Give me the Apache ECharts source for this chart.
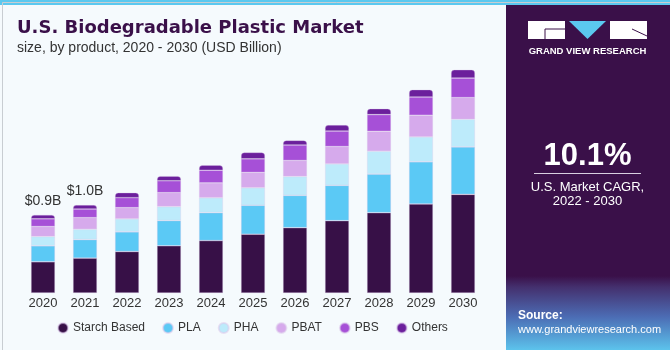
<!DOCTYPE html>
<html>
<head>
<meta charset="utf-8">
<script src="https://cdn.jsdelivr.net/npm/echarts@6/dist/echarts.min.js"></script>
<style>
  html, body { margin: 0; padding: 0; background: #f5fafd; }
  #chart { width: 670px; height: 350px; }
</style>
</head>
<body>
<div id="chart"></div>
<script>
// years on the x axis
const years = ["2020","2021","2022","2023","2024","2025","2026","2027","2028","2029","2030"];

// USD billion
const starch = [0.356, 0.398, 0.473, 0.538, 0.598, 0.670, 0.745, 0.825, 0.916, 1.015, 1.125];
const pla    = [0.182, 0.211, 0.224, 0.288, 0.318, 0.330, 0.368, 0.402, 0.440, 0.481, 0.541];
const pha    = [0.106, 0.118, 0.148, 0.159, 0.170, 0.200, 0.216, 0.245, 0.261, 0.284, 0.315];
const pbat   = [0.114, 0.132, 0.128, 0.159, 0.170, 0.175, 0.182, 0.198, 0.227, 0.247, 0.247];
const pbs    = [0.088, 0.099, 0.114, 0.136, 0.144, 0.155, 0.177, 0.177, 0.190, 0.208, 0.223];
const others = [0.045, 0.045, 0.057, 0.053, 0.057, 0.073, 0.053, 0.068, 0.068, 0.084, 0.095];

// labels shown above the first two bars
const topLabels = ["$0.9B", "$1.0B"];

const seriesDefs = [
  { name: "Starch Based", data: starch, color: "#371047" },
  { name: "PLA",          data: pla,    color: "#5bc9f5" },
  { name: "PHA",          data: pha,    color: "#bdebfb" },
  { name: "PBAT",         data: pbat,   color: "#d6aaec" },
  { name: "PBS",          data: pbs,    color: "#a650d7" },
  { name: "Others",       data: others, color: "#6b1f9c" }
];

const FONT = "'Liberation Sans', Arial, sans-serif";

const series = seriesDefs.map((s, i) => {
  const last = i === seriesDefs.length - 1;
  return {
    name: s.name,
    type: "bar",
    stack: "total",
    barWidth: 24,
    data: s.data,
    itemStyle: {
      color: s.color,
      borderColor: "rgba(220,200,235,0.55)",
      borderWidth: 0.6,
      borderRadius: last ? [3, 3, 0, 0] : 0
    },
    label: last ? {
      show: true,
      position: "top",
      distance: 7,
      fontFamily: FONT,
      fontSize: 14,
      color: "#333",
      formatter: p => topLabels[p.dataIndex] || ""
    } : { show: false }
  };
});

const chart = echarts.init(document.getElementById("chart"));

chart.setOption({
  backgroundColor: "#f5fafd",
  animation: false,
  grid: { left: 22, right: 186, top: 65, bottom: 57 },
  legend: {
    left: 57,
    top: 322,
    padding: 0,
    icon: "circle",
    itemWidth: 10,
    itemHeight: 10,
    itemGap: 17,
    textStyle: { fontFamily: FONT, fontSize: 12, color: "#333" },
    data: seriesDefs.map(s => s.name)
  },
  xAxis: {
    type: "category",
    data: years,
    axisLine: { show: false },
    axisTick: { show: false },
    axisLabel: { fontFamily: FONT, fontSize: 13, color: "#333", margin: 4 }
  },
  yAxis: {
    type: "value",
    min: 0,
    max: 2.6,
    show: false,
    splitLine: { show: false }
  },
  series: series,
  graphic: [
    // top stripe
    { type: "rect", left: 0, top: 0, shape: { width: 670, height: 5 }, style: { fill: "#5bc8ef" }, z: 10 },
    // outer border
    { type: "rect", left: 0, top: 0, shape: { x: 0.5, y: 0.5, width: 669, height: 349 }, style: { fill: "none", stroke: "#c8cdd2", lineWidth: 1 }, z: 11 },
    // title
    { type: "text", left: 17, top: 19, style: { text: "U.S. Biodegradable Plastic Market", fontFamily: "'DejaVu Sans', sans-serif", fontWeight: "bold", fontSize: 18, fill: "#3a1049" } },
    { type: "text", left: 17, top: 41, style: { text: "size, by product, 2020 - 2030 (USD Billion)", fontFamily: FONT, fontSize: 14, fill: "#333" } },
    // right panel
    { type: "rect", left: 506, top: 5, shape: { width: 164, height: 345 }, style: { fill: "#3a1049" }, z: 1 },
    { type: "rect", left: 506, top: 276, shape: { width: 164, height: 74 }, z: 2,
      style: { fill: new echarts.graphic.LinearGradient(0, 0, 0, 1, [
        { offset: 0, color: "#3a1049" },
        { offset: 0.15, color: "#44306e" },
        { offset: 0.55, color: "#4c6cb4" },
        { offset: 1, color: "#5cc3ec" }
      ]) } },
    // logo
    { type: "rect", left: 528, top: 21, shape: { width: 37, height: 18 }, style: { fill: "#ffffff" }, z: 3 },
    { type: "polygon", shape: { points: [[569, 21], [606, 21], [587.5, 39]] }, style: { fill: "#5bc8ef" }, z: 3 },
    { type: "rect", left: 610, top: 21, shape: { width: 37, height: 18 }, style: { fill: "#ffffff" }, z: 3 },
    { type: "polyline", shape: { points: [[545, 29], [565, 29]] }, style: { stroke: "#3a1049", lineWidth: 1 }, z: 4 },
    { type: "polyline", shape: { points: [[545, 29], [545, 39]] }, style: { stroke: "#3a1049", lineWidth: 1 }, z: 4 },
    { type: "polyline", shape: { points: [[632, 29], [647, 36]] }, style: { stroke: "#3a1049", lineWidth: 1 }, z: 4 },
    { type: "text", x: 587.5, y: 51, style: { text: "GRAND VIEW RESEARCH", fontFamily: FONT, fontWeight: "bold", fontSize: 9.5, fill: "#ffffff", align: "center", verticalAlign: "middle" }, z: 4 },
    // CAGR
    { type: "text", x: 587.5, y: 156, style: { text: "10.1%", fontFamily: FONT, fontWeight: "bold", fontSize: 31, fill: "#ffffff", align: "center", verticalAlign: "middle" }, z: 4 },
    { type: "polyline", shape: { points: [[534, 173.5], [641, 173.5]] }, style: { stroke: "#d8cfe0", lineWidth: 1 }, z: 4 },
    { type: "text", x: 587.5, y: 187, style: { text: "U.S. Market CAGR,", fontFamily: FONT, fontSize: 13, fill: "#ffffff", align: "center", verticalAlign: "middle" }, z: 4 },
    { type: "text", x: 587.5, y: 201, style: { text: "2022 - 2030", fontFamily: FONT, fontSize: 13, fill: "#ffffff", align: "center", verticalAlign: "middle" }, z: 4 },
    // source
    { type: "text", x: 518, y: 316, style: { text: "Source:", fontFamily: FONT, fontWeight: "bold", fontSize: 12, fill: "#ffffff", verticalAlign: "middle" }, z: 4 },
    { type: "text", x: 518, y: 330, style: { text: "www.grandviewresearch.com", fontFamily: FONT, fontSize: 11, fill: "#ffffff", verticalAlign: "middle" }, z: 4 }
  ]
});
</script>
</body>
</html>
